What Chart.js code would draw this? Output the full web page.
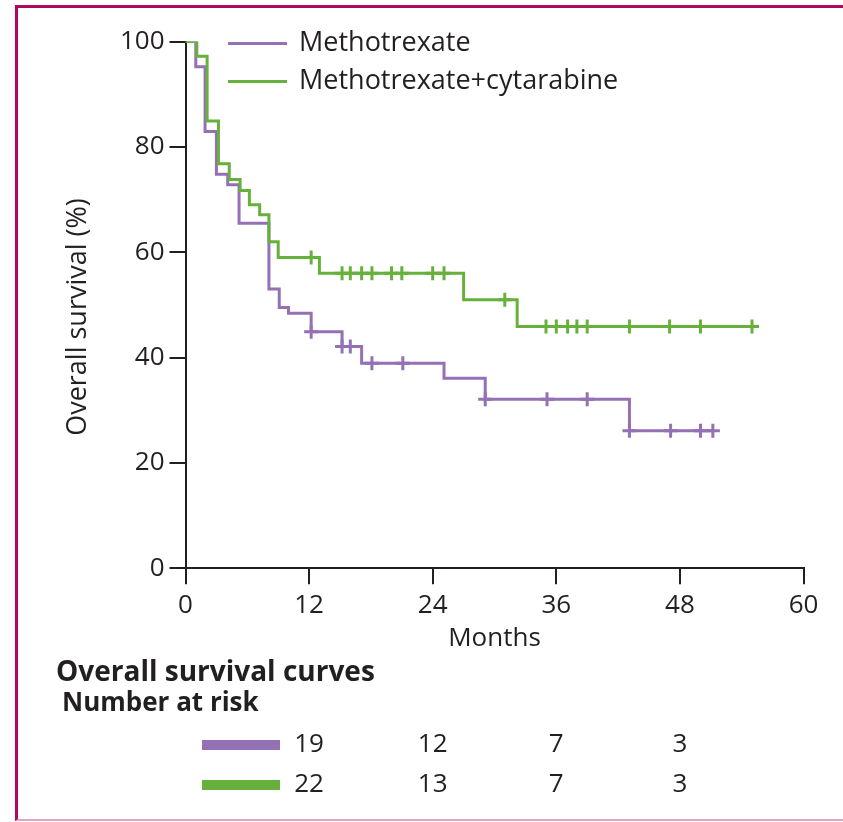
<!DOCTYPE html>
<html>
<head>
<meta charset="utf-8">
<script src="https://cdn.jsdelivr.net/npm/chart.js@4.4.0/dist/chart.umd.min.js"></script>
<style>
  html, body { margin: 0; padding: 0; background: #fff; }
  #wrap { position: relative; width: 843px; height: 822px; overflow: hidden; }
  #frame {
    position: absolute; left: 15px; top: 5px; right: -10px; bottom: 1px;
    border-top: 3px solid #b3085a; border-left: 3px solid #b3085a;
    border-bottom: 2px solid #e7a3c2; pointer-events: none;
  }
  canvas { position: absolute; left: 0; top: 0; }
</style>
</head>
<body>
<div id="wrap">
  <div id="frame"></div>
  <canvas id="osChart" width="843" height="822"></canvas>
</div>
<script>
// ---- data ----
const seriesNames = ["Methotrexate", "Methotrexate+cytarabine"];
const seriesColors = ["#9470b4", "#68b03c"];

// Kaplan-Meier steps: time (months) of each drop and survival (%) after it
const mtxTimes = [0, 1.0, 1.9, 3.0, 4.1, 5.2, 8.1, 9.1, 10.0, 12.2, 15.2, 17.1, 25.1, 29.1, 43.1, 51.2];
const mtxSurvival = [100, 95.2, 82.9, 74.8, 72.8, 65.5, 53.0, 49.5, 48.4, 44.9, 42.1, 38.9, 36.1, 32.1, 26.1, 26.1];
const comboTimes = [0, 1.1, 2.1, 3.2, 4.25, 5.3, 6.2, 7.2, 8.1, 9.0, 13.0, 27.0, 32.2, 55.0];
const comboSurvival = [100, 97.2, 84.9, 76.8, 73.8, 71.7, 69.0, 67.1, 62.0, 59.0, 56.0, 51.0, 45.9, 45.9];

// censored observations
const mtxCensorTimes = [12.2, 15.2, 16.0, 18.1, 21.1, 29.1, 35.1, 39.0, 43.1, 47.1, 50.0, 51.2];
const mtxCensorSurvival = [44.9, 42.1, 42.1, 38.9, 38.9, 32.1, 32.1, 32.1, 26.1, 26.1, 26.1, 26.1];
const comboCensorTimes = [12.2, 15.2, 16.0, 17.1, 18.1, 20.0, 21.0, 24.0, 25.1, 31.0, 35.0, 36.0, 37.1, 38.0, 39.0, 43.1, 47.0, 50.0, 55.0];
const comboCensorSurvival = [59.0, 56.0, 56.0, 56.0, 56.0, 56.0, 56.0, 56.0, 56.0, 51.0, 45.9, 45.9, 45.9, 45.9, 45.9, 45.9, 45.9, 45.9, 45.9];

// number at risk table (columns placed under these months)
const riskColumns = [12, 24, 36, 48];
const mtxAtRisk = [19, 12, 7, 3];
const comboAtRisk = [22, 13, 7, 3];

const xTicks = [0, 12, 24, 36, 48, 60];
const yTicks = [0, 20, 40, 60, 80, 100];

const ink = "#231f20";
const fontFamily = "'Open Sans', 'Noto Sans', sans-serif";

function toPoints(xs, ys) {
  return xs.map((x, i) => ({ x: x, y: ys[i] }));
}

function stepDataset(i, xs, ys) {
  return {
    label: seriesNames[i],
    data: toPoints(xs, ys),
    showLine: true,
    stepped: "before",
    borderColor: seriesColors[i],
    borderWidth: 3,
    pointRadius: 0,
    fill: false,
    order: i === 1 ? 0 : 2,
  };
}

function censorDataset(i, xs, ys) {
  return {
    label: seriesNames[i] + " censored",
    data: toPoints(xs, ys),
    showLine: false,
    pointStyle: "cross",
    pointRadius: 7,
    pointBorderWidth: 3,
    borderColor: seriesColors[i],
    backgroundColor: seriesColors[i],
    order: i === 1 ? 1 : 3,
  };
}

// ---- texts around the plot ----
const extrasPlugin = {
  id: "extras",
  afterDraw(chart) {
    const { ctx, chartArea } = chart;
    const x = chart.scales.x;
    ctx.save();
    ctx.fillStyle = ink;
    ctx.textBaseline = "middle";

    // legend
    ctx.font = "27px " + fontFamily;
    ctx.textAlign = "left";
    [43, 81].forEach((ly, i) => {
      ctx.strokeStyle = seriesColors[i];
      ctx.lineWidth = 3;
      ctx.beginPath();
      ctx.moveTo(228, ly + 0.5);
      ctx.lineTo(287, ly + 0.5);
      ctx.stroke();
      ctx.fillText(seriesNames[i], 299, ly);
    });

    // axis titles
    ctx.textAlign = "center";
    ctx.font = "26px " + fontFamily;
    ctx.fillText("Months", (chartArea.left + chartArea.right) / 2, chartArea.bottom + 70);
    ctx.save();
    ctx.font = "27px " + fontFamily;
    ctx.translate(chartArea.left - 107, 317);
    ctx.rotate(-Math.PI / 2);
    ctx.fillText("Overall survival (%)", 0, 0);
    ctx.restore();

    // caption
    ctx.textAlign = "left";
    ctx.font = "bold 28px " + fontFamily;
    ctx.fillText("Overall survival curves", 56, 673);
    ctx.font = "bold 26px " + fontFamily;
    ctx.fillText("Number at risk", 62, 704);

    // number at risk rows
    ctx.font = "26px " + fontFamily;
    ctx.textAlign = "center";
    [mtxAtRisk, comboAtRisk].forEach((row, i) => {
      const ry = 745 + i * 40;
      ctx.fillStyle = seriesColors[i];
      ctx.fillRect(202, ry - 5, 78, 10);
      ctx.fillStyle = ink;
      row.forEach((n, j) => {
        ctx.fillText(String(n), x.getPixelForValue(riskColumns[j]), ry);
      });
    });
    ctx.restore();
  },
};

new Chart(document.getElementById("osChart"), {
  type: "scatter",
  data: {
    datasets: [
      stepDataset(0, mtxTimes, mtxSurvival),
      stepDataset(1, comboTimes, comboSurvival),
      censorDataset(0, mtxCensorTimes, mtxCensorSurvival),
      censorDataset(1, comboCensorTimes, comboCensorSurvival),
    ],
  },
  options: {
    responsive: false,
    animation: false,
    layout: { padding: { top: 41.5, right: 39.5, bottom: 0, left: 0 } },
    plugins: { legend: { display: false }, tooltip: { enabled: false } },
    scales: {
      x: {
        type: "linear",
        min: 0,
        max: 60,
        afterFit: (s) => { s.height = 253.7; },
        afterBuildTicks: (s) => { s.ticks = xTicks.map((v) => ({ value: v })); },
        border: { display: true, color: ink, width: 2 },
        grid: { display: true, drawOnChartArea: false, drawTicks: true, tickLength: 16, color: ink, lineWidth: 2 },
        ticks: { color: ink, font: { family: fontFamily, size: 26 }, padding: 6, maxRotation: 0 },
      },
      y: {
        type: "linear",
        min: 0,
        max: 100,
        afterFit: (s) => { s.width = 185.5; },
        afterBuildTicks: (s) => { s.ticks = yTicks.map((v) => ({ value: v })); },
        border: { display: true, color: ink, width: 2 },
        grid: { display: true, drawOnChartArea: false, drawTicks: true, tickLength: 16, color: ink, lineWidth: 2 },
        ticks: { color: ink, font: { family: fontFamily, size: 26 }, padding: 5 },
      },
    },
  },
  plugins: [extrasPlugin],
});
</script>
</body>
</html>
